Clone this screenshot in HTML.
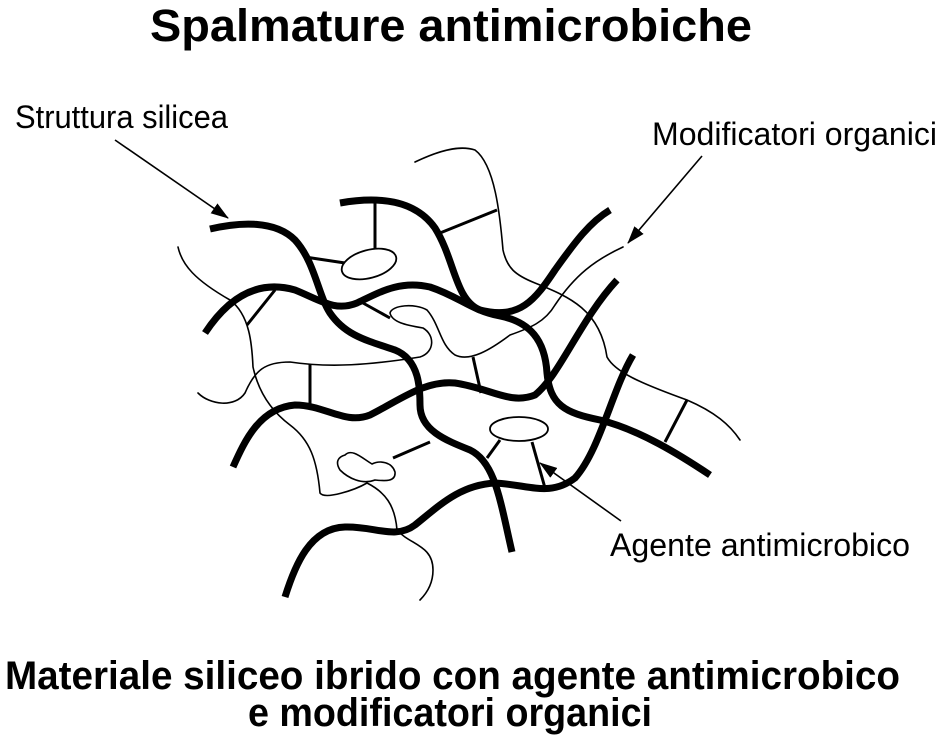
<!DOCTYPE html>
<html><head><meta charset="utf-8"><style>
html,body{margin:0;padding:0;background:#fff;}
svg{display:block;}
text{font-family:"Liberation Sans",sans-serif;fill:#000;}
</style></head><body>
<svg width="940" height="738" viewBox="0 0 940 738" xmlns="http://www.w3.org/2000/svg">
<defs>
<marker id="ah" markerWidth="18" markerHeight="12" refX="17" refY="6" orient="auto" markerUnits="userSpaceOnUse" viewBox="0 0 18 12">
<path d="M0,0 L18,6 L0,12 Z" fill="#000"/></marker>
</defs>
<text x="150" y="41" font-size="45" font-weight="bold" textLength="602" lengthAdjust="spacingAndGlyphs">Spalmature antimicrobiche</text>
<text x="15" y="128" font-size="32" textLength="213" lengthAdjust="spacingAndGlyphs">Struttura silicea</text>
<text x="652" y="145" font-size="32" textLength="285" lengthAdjust="spacingAndGlyphs">Modificatori organici</text>
<text x="610" y="556" font-size="32" textLength="300" lengthAdjust="spacingAndGlyphs">Agente antimicrobico</text>
<text x="5" y="689" font-size="40" font-weight="bold" textLength="895" lengthAdjust="spacingAndGlyphs">Materiale siliceo ibrido con agente antimicrobico</text>
<text x="248" y="726" font-size="40" font-weight="bold" textLength="404" lengthAdjust="spacingAndGlyphs">e modificatori organici</text>

<g fill="none" stroke="#000" stroke-width="1.6" stroke-linecap="round">
<path d="M415,162 C440,150 460,145 475,150 C495,165 500,215 503,250 C507,268 515,275 535,283 C570,297 600,310 607,357 C615,372 640,383 687,400 C715,412 730,425 740,440"/>
<path d="M178,247 C182,265 195,280 230,300 C250,315 252,345 253,367 C258,390 270,410 290,425 C310,440 317,460 320,493 C325,500 355,490 367,483 C385,492 395,505 397,530 C410,545 433,545 433,570 C433,585 425,595 420,600"/>
<path d="M198,393 C210,405 235,408 245,393 C255,370 265,362 290,362 C330,368 370,365 420,357 C435,352 435,335 423,328 C405,325 392,322 390,313 C392,305 415,303 427,310 C440,325 440,345 455,355 C470,362 490,350 510,335 C530,328 545,322 555,305 C575,275 595,260 623,247"/>
<path d="M345,455 C352,448 362,458 372,464 C380,460 392,462 395,472 C396,482 385,481 375,480 C362,485 348,478 340,470 C335,462 338,457 345,455 Z"/>
</g>

<g fill="none" stroke="#000" stroke-width="7" stroke-linecap="butt">
<path d="M210,229 C240,222 275,220 295,240 C315,262 318,295 330,313 C345,335 365,340 395,350 C420,360 420,390 420,405 C420,430 445,440 470,450 C495,462 500,500 512,552"/>
<path d="M340,203 C380,196 415,200 435,228 C455,260 455,300 480,310 C520,320 535,300 555,270 C575,242 590,222 610,210"/>
<path d="M205,333 C230,295 260,280 295,290 C320,300 335,312 357,303 C380,292 400,280 430,287 C460,297 470,310 500,316 C530,322 545,340 547,373 C550,405 565,413 600,420 C640,430 680,455 710,475"/>
<path d="M233,467 C245,440 260,408 295,405 C325,405 345,425 370,415 C400,400 425,380 455,383 C490,388 510,405 535,395 C560,375 580,320 617,280"/>
<path d="M285,597 C295,565 310,528 345,527 C375,526 395,540 415,525 C440,505 460,485 495,483 C530,485 550,497 575,478 C600,450 612,390 633,355"/>
</g>

<g fill="none" stroke="#000" stroke-width="3">
<line x1="375" y1="203" x2="375" y2="251"/>
<line x1="305" y1="257" x2="345" y2="263"/>
<line x1="440" y1="233" x2="497" y2="210"/>
<line x1="275" y1="290" x2="247" y2="325"/>
<line x1="310" y1="364" x2="310" y2="407"/>
<line x1="363" y1="303" x2="390" y2="318"/>
<line x1="473" y1="357" x2="481" y2="393"/>
<line x1="687" y1="400" x2="665" y2="442"/>
<line x1="500" y1="440" x2="487" y2="458"/>
<line x1="532" y1="442" x2="545" y2="488"/>
<line x1="393" y1="458" x2="430" y2="442"/>
</g>
<g fill="#fff" stroke="#000" stroke-width="1.8">
<ellipse cx="369" cy="264" rx="28" ry="14" transform="rotate(-15 369 264)"/>
<ellipse cx="519" cy="429" rx="29" ry="12"/>
</g>

<g stroke="#000" stroke-width="1.6" fill="none">
<line x1="115" y1="140" x2="228" y2="218" marker-end="url(#ah)"/>
<line x1="702" y1="156" x2="628" y2="243" marker-end="url(#ah)"/>
<line x1="621" y1="521" x2="540" y2="463" marker-end="url(#ah)"/>
</g>
</svg>
</body></html>
